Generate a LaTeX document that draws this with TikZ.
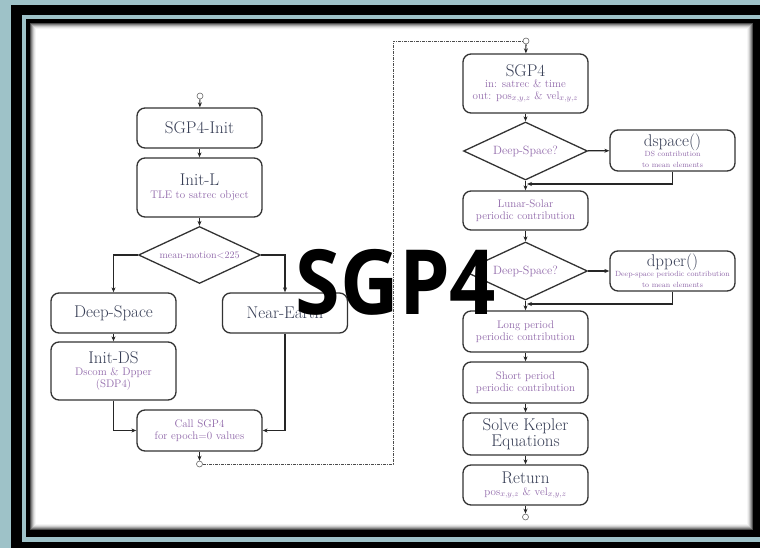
\documentclass[tikz,border=0pt]{standalone}
\usepackage{fontspec}
\usepackage{tikz}
\usetikzlibrary{arrows.meta}
\usetikzlibrary{shapes.geometric}
\newfontfamily\bannerfont{Open Sans}
\definecolor{bgblue}{RGB}{158,194,200}
\definecolor{titlecol}{RGB}{55,62,85}
\definecolor{subcol}{RGB}{145,105,170}
\newcommand{\TS}{\fontsize{17}{18}\selectfont}
\newcommand{\MS}{\fontsize{11}{12}\selectfont}
\newcommand{\FS}{\fontsize{7.5}{8.5}\selectfont}
\newcommand{\lw}{1.3pt}
\tikzset{
  box/.style={draw=black!80,line width=\lw,rounded corners=8pt,fill=white,
              minimum width=125pt,inner sep=0pt,align=center,text=titlecol},
  smallbox/.style={box,minimum height=41pt},
  decision/.style={diamond,draw=black!80,line width=\lw,fill=white,aspect=2,
              minimum width=124pt,minimum height=58pt,inner sep=0pt,text=subcol},
  term/.style={circle,draw=black!60,fill=white,minimum size=6pt,inner sep=0pt,line width=0.6pt},
  flow/.style={draw=black!85,line width=1.1pt,-{Stealth[length=5pt,width=4pt]}},
  jump/.style={draw=black!70,line width=0.8pt,dash pattern=on 3pt off 1pt on 1pt off 1pt}
}
\begin{document}
\begin{tikzpicture}[x=1pt,y=-1pt]
    \useasboundingbox (0,0) rectangle (760,548);
    % frame
    \fill[bgblue] (0,0) rectangle (760,548);
    \fill[black] (11,5) rectangle (760,548);
    \fill[bgblue] (22,15) rectangle (770,542);
    \fill[black] (26,19) rectangle (765,537);
    \fill[white] (30,23) rectangle (753,530);
    \foreach \i/\c in {0/70,1/50,2/34,3/20,4/10,5/4}
        \draw[black!\c,line width=1pt] (30.5+\i,23.5+\i) rectangle (752.5-\i,529.5-\i);

    % initialisation
    \node[term] (initstart) at (200,96) {};
    \node[box,minimum height=40pt] (sgpinit) at (199.5,128) {\TS SGP4-Init};
    \node[box,minimum height=59pt] (initl) at (199.5,187.5) {\TS Init-L\\[1pt]\MS\color{subcol}TLE to satrec object};
    \node[decision,minimum width=122pt,minimum height=57pt,font=\fontsize{10}{11}\selectfont] (mm) at (199.5,255) {mean-motion$<$225};
    \node[box,minimum height=40pt] (deep) at (113.5,313) {\TS Deep-Space};
    \node[box,minimum height=40pt] (near) at (285,313) {\TS Near-Earth};
    \node[box,minimum height=58pt] (initds) at (113.5,371) {\TS Init-DS\\\MS\color{subcol}Dscom \& Dpper\\\MS\color{subcol}(SDP4)};
    \node[box,minimum height=41pt,text=subcol] (callsgp) at (199.5,430.5) {\MS Call SGP4\\\MS for epoch=0 values};
    \node[term] (initend) at (199.5,464) {};

    \draw[flow] (initstart) -- (sgpinit);
    \draw[flow] (sgpinit) -- (initl);
    \draw[flow] (initl) -- (mm);
    \draw[flow] (mm.west) -| (deep.north);
    \draw[flow] (mm.east) -| (near.north);
    \draw[flow] (deep) -- (initds);
    \draw[flow] (initds.south) |- (callsgp.west);
    \draw[flow] (near.south) |- (callsgp.east);
    \draw[flow] (callsgp) -- (initend);

    % propagation
    \node[term] (propstart) at (526,41) {};
    \node[box,minimum height=59pt] (sgp) at (525.5,83.5) {\TS SGP4\\[-1pt]\MS\color{subcol}in: satrec \& time\\\MS\color{subcol}out: pos$_{x,y,z}$ \& vel$_{x,y,z}$};
    \node[decision,font=\fontsize{12}{13}\selectfont] (dsa) at (525.5,151) {Deep-Space?};
    \node[smallbox] (dspace) at (672.5,150.5) {\TS dspace()\\[-2pt]\FS\color{subcol}DS contribution\\[-1pt]\FS\color{subcol}to mean elements};
    \node[box,minimum height=39pt,text=subcol] (lunar) at (525.5,210.5) {\MS Lunar-Solar\\\MS periodic contribution};
    \node[decision,font=\fontsize{12}{13}\selectfont] (dsb) at (525.5,271) {Deep-Space?};
    \node[box,minimum height=40pt] (dpper) at (672.5,271) {\TS dpper()\\[-2pt]\FS\color{subcol}Deep-space periodic contribution\\[-1pt]\FS\color{subcol}to mean elements};
    \node[smallbox,text=subcol] (long) at (525.5,331.5) {\MS Long period\\\MS periodic contribution};
    \node[smallbox,text=subcol] (short) at (525.5,382.5) {\MS Short period\\\MS periodic contribution};
    \node[box,minimum height=42pt] (kepler) at (525.5,434) {\TS Solve Kepler\\\TS Equations};
    \node[box,minimum height=40pt] (return) at (525.5,485) {\TS Return\\\MS\color{subcol}pos$_{x,y,z}$ \& vel$_{x,y,z}$};
    \node[term] (propend) at (525.5,517) {};
    \coordinate (joina) at (527,184);
    \coordinate (joinb) at (527,304);
    \coordinate (bend) at (393,464);

    \draw[jump] (initend) -- (bend) |- (propstart);
    \draw[flow] (propstart) -- (sgp);
    \draw[flow] (sgp) -- (dsa);
    \draw[flow] (dsa) -- (dspace);
    \draw[flow] (dspace.south) |- (joina);
    \draw[flow] (dsa) -- (lunar);
    \draw[flow] (lunar) -- (dsb);
    \draw[flow] (dsb) -- (dpper);
    \draw[flow] (dpper.south) |- (joinb);
    \draw[flow] (dsb) -- (long);
    \draw[flow] (long) -- (short);
    \draw[flow] (short) -- (kepler);
    \draw[flow] (kepler) -- (return);
    \draw[flow] (return) -- (propend);

    % banner
    \node[inner sep=0pt,xscale=0.9,transform shape,font=\bannerfont\bfseries\fontsize{90}{90}\selectfont] (banner) at (396,282) {SGP4};
\end{tikzpicture}
\end{document}
